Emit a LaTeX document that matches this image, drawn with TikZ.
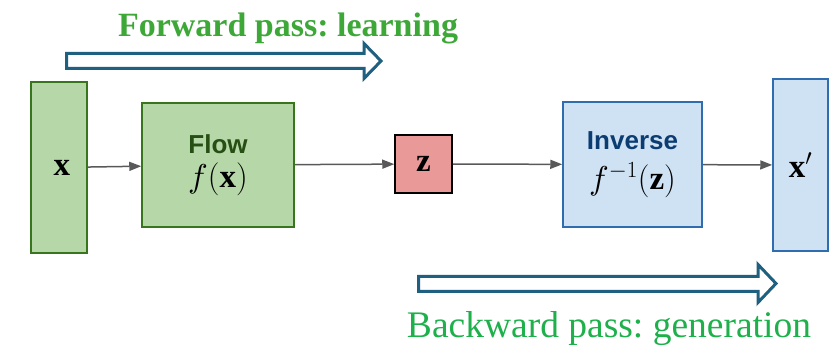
\RequirePackage{fix-cm}
\documentclass[tikz,border=0pt]{standalone}
\usepackage{fontspec}
\setmainfont{Liberation Serif}
\setsansfont{Liberation Sans}
\usetikzlibrary{arrows.meta}
\DeclareFontShape{OML}{cmm}{m}{it}{<->cmmi10}{}
\DeclareFontShape{OMS}{cmsy}{m}{n}{<->cmsy10}{}
\frenchspacing
\definecolor{gfill}{HTML}{B6D7A8}
\definecolor{gline}{HTML}{38761D}
\definecolor{gtext}{HTML}{274E13}
\definecolor{bfill}{HTML}{CFE2F3}
\definecolor{bline}{HTML}{2F6DAE}
\definecolor{btext}{HTML}{0B3D73}
\definecolor{rfill}{HTML}{EA9999}
\definecolor{passline}{HTML}{1F5F80}
\definecolor{fwdgreen}{HTML}{3DA838}
\definecolor{bwdgreen}{HTML}{1DB04B}
\newcommand{\boxtitle}[2]{{\color{#1}\fontsize{26}{34}\selectfont\sffamily\bfseries #2}}
\begin{document}
\begin{tikzpicture}[x=1pt, y=-1pt, line width=1.5pt,
    box/.style = {draw, rectangle, inner sep=0pt, align=center,
        font=\fontsize{33}{34}\selectfont},
    green/.style = {box, fill=gfill, draw=gline},
    blue/.style = {box, fill=bfill, draw=bline},
    twoline/.style = {font=\fontsize{33}{34}\selectfont},
    pass/.style = {draw=passline, line width=3pt, fill=white},
    conn/.style = {draw=black!65, -{Triangle[length=12pt, width=9pt]}}]
    \useasboundingbox (0,0) rectangle (833,347);
    \node[green, minimum width=56, minimum height=171] (x) at (59,167.5) {\,$\mathbf{x}$};
    \node[green, twoline, minimum width=152, minimum height=124] (flow) at (218,165)
        {\boxtitle{gtext}{Flow}\\ $f(\mathbf{x})$};
    \node[box, fill=rfill, draw=black, minimum width=57, minimum height=58] (z) at (423.5,164) {$\mathbf{z}$};
    \node[blue, twoline, minimum width=139, minimum height=125] (inv) at (632.5,164.5)
        {\boxtitle{btext}{Inverse}\\[6pt] $f^{-1}(\mathbf{z})$};
    \node[blue, minimum width=55, minimum height=172] (xp) at (800.5,165) {$\mathbf{x}'$};
    \draw[conn] (x) -- (flow);
    \draw[conn] (flow) -- (z);
    \draw[conn] (z) -- (inv);
    \draw[conn] (inv) -- (xp);
    \draw[pass] (66.5,53.5) -- (364,53.5) -- (364,43.5) -- (381,61) -- (364,78.5)
        -- (364,68.5) -- (66.5,68.5) -- cycle;
    \draw[pass] (418.5,276.5) -- (758,276.5) -- (758,264.5) -- (776,283.5) -- (758,302.5)
        -- (758,291.5) -- (418.5,291.5) -- cycle;
    \node[anchor=base, text=fwdgreen, font=\bfseries\fontsize{34}{34}\selectfont] (fwd) at (288,37) {Forward pass: learning};
    \node[anchor=base, text=bwdgreen, font=\fontsize{37.5}{38}\selectfont] (bwd) at (609,338) {Backward pass: generation};
\end{tikzpicture}
\end{document}
